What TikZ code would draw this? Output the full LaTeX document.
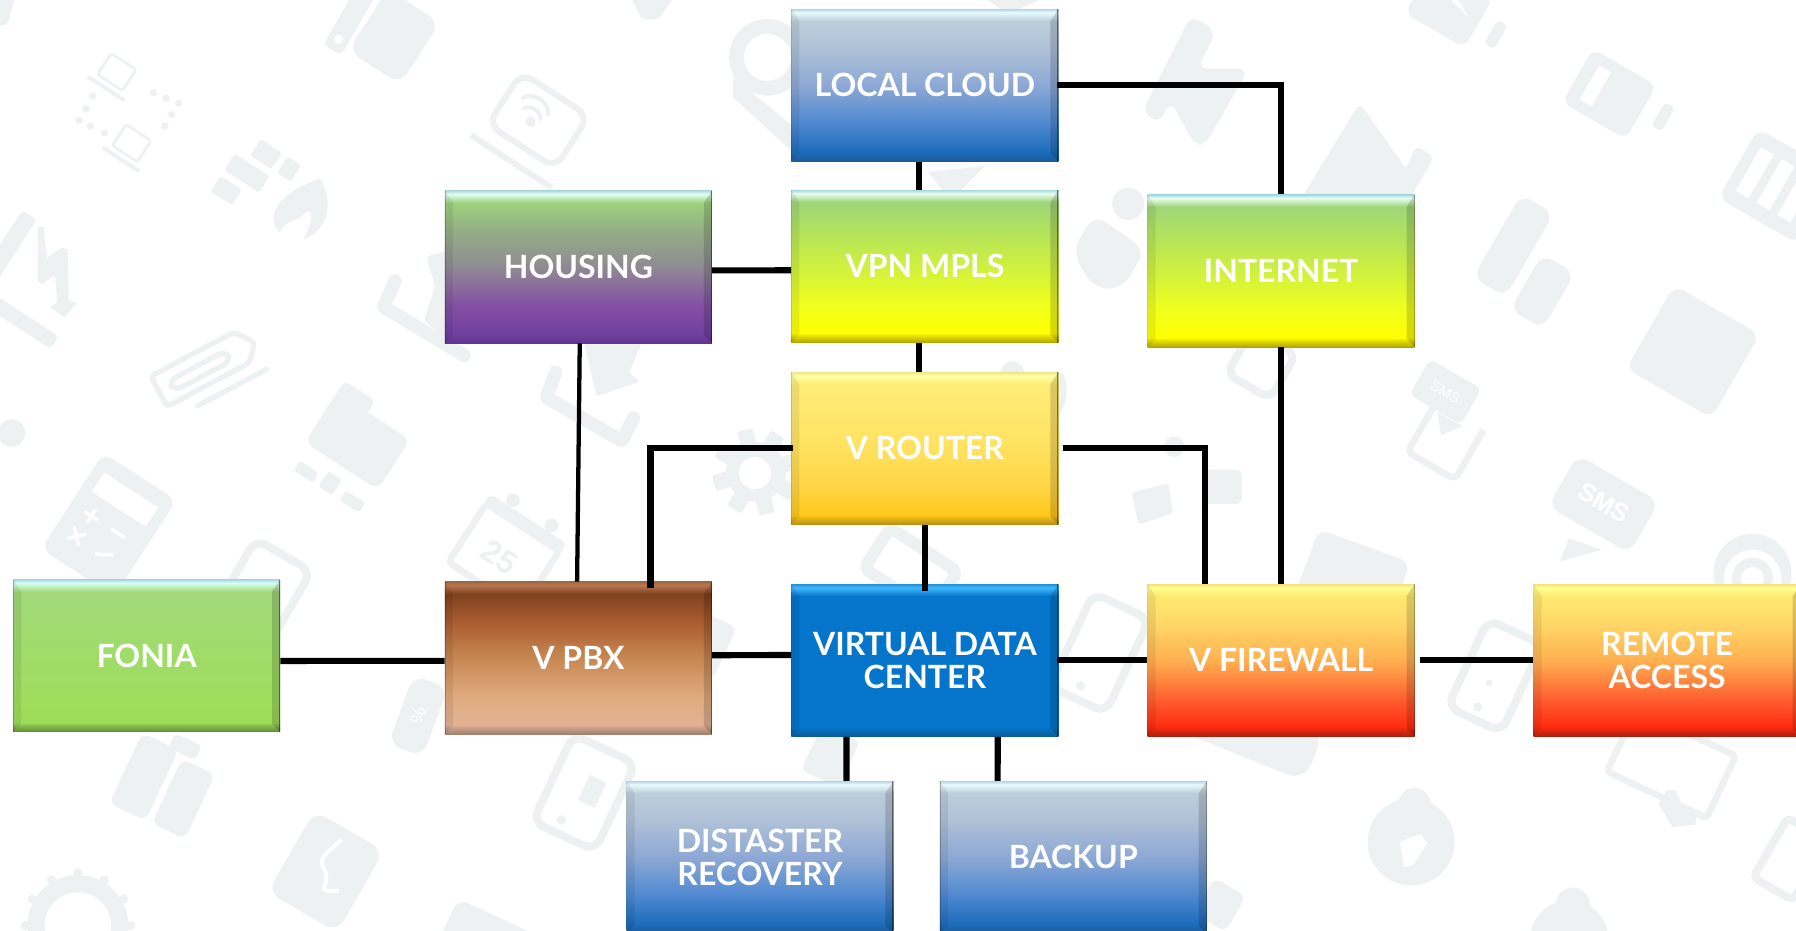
\documentclass[tikz,border=0pt]{standalone}
\usepackage{fontspec}
\setmainfont{Lato}
\newfontfamily\boxfont{Lato}[BoldFont={Lato Bold}]
\newfontfamily\icofont{Liberation Sans}
\newcommand\hc[2]{\definecolor{#1}{HTML}{#2}}
\newcommand\mkshade[9]{%
 \hc{#1a}{#2}\hc{#1b}{#3}\hc{#1c}{#4}\hc{#1d}{#5}\hc{#1e}{#6}\hc{#1f}{#7}\hc{#1g}{#8}\hc{#1h}{#9}%
 \pgfdeclareverticalshading{#1}{100bp}{color(0bp)=(#1a); color(25bp)=(#1a); color(26bp)=(#1a!70!#1b); color(27.6bp)=(#1a!20!#1b); color(28bp)=(#1b); color(37.5bp)=(#1c); color(50bp)=(#1d); color(62.5bp)=(#1e); color(71bp)=(#1f); color(73.9bp)=(#1g); color(75bp)=(#1h); color(100bp)=(#1h)}}
\mkshade{sblue}{1D5A96}{1C6CBC}{4F89D0}{8DA8D5}{B0C2D7}{BCCDDB}{E8FBFC}{B5D5E5}
\mkshade{sgreen}{B0A400}{FFFF00}{F0FF1E}{CFF03F}{B0E25F}{A0D57A}{E6FFF0}{A8D8E0}
\mkshade{shouse}{62358F}{7040A0}{8450A5}{8F8A92}{95B085}{9ED17E}{E0FFF0}{B0D8E0}
\mkshade{srouter}{B89010}{FFC81A}{FFD545}{FFE15E}{FFE870}{FFEC78}{FFFFA0}{EFE58A}
\mkshade{sfire}{A82010}{FF2A10}{FF6030}{FFB050}{FFD868}{FFE970}{FFFF90}{F5E080}
\mkshade{svdc}{0C5A96}{0575CC}{0575CC}{0575CC}{0575CC}{0575CC}{40B8FF}{2090D0}
\mkshade{spbx}{A08070}{E2B294}{DFAB7E}{C78752}{A85A2E}{7E411E}{B87850}{9E6845}
\mkshade{sfon}{5F8A3A}{9EDC58}{9FDD60}{9FDC68}{A0DA72}{A2D87A}{D8FFF0}{A8D8E8}
\hc{icg}{EEF1F2}
\newcommand\ico[4]{\begin{scope}[shift={(#1,#2)},rotate=#3]#4\end{scope}}
\tikzset{
 bevelbox/.style={rectangle,minimum width=200.2pt,minimum height=114.3pt,inner sep=0pt,
  shade,shading=#1,text=white,align=center,
  font=\boxfont\bfseries\fontsize{24}{25}\selectfont,
  path picture={
   \fill[black,opacity=.07] (path picture bounding box.north west) -- ([shift={(6pt,-9pt)}]path picture bounding box.north west) -- ([shift={(6pt,6pt)}]path picture bounding box.south west) -- (path picture bounding box.south west) -- cycle;
   \fill[black,opacity=.15] (path picture bounding box.north east) -- ([shift={(-6pt,-9pt)}]path picture bounding box.north east) -- ([shift={(-6pt,6pt)}]path picture bounding box.south east) -- (path picture bounding box.south east) -- cycle;
   \draw[black,opacity=.22,line width=1.2pt] (path picture bounding box.north west) -- (path picture bounding box.south west);
   \draw[black,opacity=.45,line width=1.6pt] (path picture bounding box.north east) -- (path picture bounding box.south east);
  }},
 conn/.style={line width=4.6pt,draw=black,line join=miter},
 connthin/.style={line width=3.2pt,draw=black},
 ic/.style={fill=icg,rounded corners=4pt},
 icl/.style={draw=icg,line width=3pt,rounded corners=4pt},
 ict/.style={text=white,inner sep=0pt,font=\icofont\bfseries},
}
\begin{document}
\begin{tikzpicture}[x=0.85906pt,y=-0.85906pt]
\useasboundingbox (0,0) rectangle (1568,812.8);
\clip (0,0) rectangle (1568,812.8);
\fill[white] (0,0) rectangle (1568,812.8);
% ---- watermark icons
% thumb
\ico{344}{32}{-33}{\fill[ic,rounded corners=10pt](-27,-32)rectangle(27,32);}
\ico{306}{16}{-30}{\fill[ic](-9,-38)rectangle(9,32);\fill[white](0,21)circle(4);}
% dotted laptops
\ico{102}{63}{-33}{\draw[icl,line width=2pt,rounded corners=2pt](-13,-11)rectangle(13,11);\draw[icl,line width=3pt,rounded corners=1pt](-19,17)--(19,17);}
\ico{115}{125}{-33}{\draw[icl,line width=2pt,rounded corners=2pt](-13,-11)rectangle(13,11);\draw[icl,line width=3pt,rounded corners=1pt](-19,17)--(19,17);}
\foreach \a/\b in {141/81,152/86,163/90,157/100,151/110,88/84,82/95,76/105,86/110,98/116}{\fill[icg](\a-7,\b)circle(3.2);}
% wifi laptop
\ico{470}{105}{-33}{\draw[icl,line width=4.5pt,rounded corners=10pt](-35,-27)rectangle(35,27);\draw[icl,line width=4.5pt,rounded corners=2pt](-42,43)--(42,43);
 \fill[icg](-5,5)circle(4.5);\draw[icg,line width=3pt,line cap=round](-16,-2)arc(200:340:9 and 7);\draw[icg,line width=3pt,line cap=round](-22,-9)arc(200:340:14 and 11);}
% bricks & flame
\ico{222}{156}{-33}{\fill[ic,rounded corners=2pt](-14,-32)rectangle(8,-15);\fill[ic,rounded corners=2pt](-26,-9)rectangle(10,8);\fill[ic,rounded corners=2pt](14,-32)rectangle(28,-15);\fill[ic,rounded corners=2pt](-26,14)rectangle(-4,30);}
\fill[icg](279,156)..controls(290,170)and(290,200)..(265,209)..controls(272,195)and(274,185)..(269,184)..controls(258,195)and(248,192)..(244,203)..controls(232,190)and(240,170)..(279,156)--cycle;
% lightning laptop
\ico{30}{250}{-33}{\fill[ic](-48,25)rectangle(42,38);\fill[ic,rounded corners=3pt](-45,-50)rectangle(-30,20);}
\fill[icg](33,198)--(38,198)--(41,225)--(54,216)--(59,218)--(60,262)--(67,265)--(56,277)--(44,268)--(50,264)--(48,240)--(37,248)--(33,245)--cycle;
% paperclip
\ico{178}{322}{28}{\draw[icl,line width=4pt,rounded corners=3pt](-44,-16)--(38,-16)--(50,0)--(38,14)--(-44,14)--cycle;\draw[icl,line width=4pt,rounded corners=6pt](-32,-5)rectangle(24,5);\draw[icl,line width=4pt,line cap=round](-20,26)--(48,26);}
% folder
\ico{312}{385}{-33}{\fill[ic,rounded corners=7pt](-38,-26)rectangle(38,26);\fill[ic,rounded corners=4pt](-38,-38)rectangle(-6,-12);}
\ico{288}{424}{-33}{\fill[ic,rounded corners=2pt](-34,-4)rectangle(-14,6);\fill[ic,rounded corners=2pt](-8,-10)rectangle(6,6);\fill[ic,rounded corners=2pt](14,-4)rectangle(34,6);}
% left blob
\fill[icg](10,378)circle(12);
% calculator
\ico{95}{458}{-33}{\fill[ic,rounded corners=8pt](-38,-50)rectangle(38,50);\fill[white](-28,-36)rectangle(28,-16);
 \draw[white,line width=2.5pt](-24,2)--(-10,2)(-17,-5)--(-17,9)(4,2)--(18,2)(-24,18)--(-12,30)(-12,18)--(-24,30)(4,28)--(18,20);}
% calendar
\ico{445}{478}{-33}{\draw[icl,line width=5pt,rounded corners=4pt](-38,-22)rectangle(38,40);\fill[ic](-40,-30)rectangle(40,-18);\fill[icg](-20,-36)circle(6);\fill[icg](20,-36)circle(6);
 \node[ict,rotate=-33,text=icg,font=\icofont\bfseries\fontsize{24}{24}\selectfont] (ical) at (-3,12) {25};}
% tray / download
\draw[icg,line width=10pt,line cap=round,rounded corners=2pt](485,325)--(477,347)--(543,385)--(553,365);
\fill[icg,rounded corners=2pt](510,300)--(560,300)--(549,326)--(559,333)--(521,346)--cycle;
\draw[icg,line width=10pt,line cap=round,rounded corners=2pt](345,245)--(335,268)--(405,310);
\fill[icg,rounded corners=3pt](372,224)--(395,218)--(395,300)--(370,280)--(380,250)--cycle;
% gear
\fill[icg](660,412)circle(26);
\foreach \r in {0,45,...,315}{\ico{660}{412}{\r+15}{\fill[icg,rounded corners=2pt](-7,-38)rectangle(7,-20);}}
\fill[white](659,413)circle(14);
% top ring
\draw[icg,line width=11pt](670,50)circle(27);
\fill[icg](640,68)--(690,108)--(730,110)--(700,140)--(640,85)--cycle;
% lightning top
\fill[icg,rounded corners=8pt](1040,13)--(1062,28)--(1045,60)--(1090,60)--(1052,127)--(1043,127)--(1022,88)--(1012,108)--(997,98)--cycle;
% mountain
\fill[icg,rounded corners=5pt](1187,90)--(1228,148)--(1236,127)--(1252,137)--(1230,175)--(1135,175)--cycle;
% paw
\fill[icg,rounded corners=11pt](936,220)--(955,187)--(1000,218)--(980,252)--(955,252)--cycle;
\fill[icg](985,178)circle(14);
\fill[icg](810,150)--(860,145)--(830,175)--cycle;
\fill[icg,rounded corners=4pt](550,-5)--(590,-5)--(575,17)--(560,17)--cycle;
\fill[icg,rounded corners=3pt](858,-3)--(915,-3)--(880,12)--cycle;
% battery etc.
\ico{1265}{5}{-30}{\fill[ic,rounded corners=7pt](-30,-25)rectangle(30,25);\fill[white](-8,-15)--(20,0)--(-20,-10)--cycle;}
\ico{1306}{30}{-30}{\fill[ic,rounded corners=3pt](-5,-12)rectangle(5,12);}
\ico{1405}{82}{-30}{\fill[ic,rounded corners=7pt](-32,-27)rectangle(32,27);\fill[white](-20,-17)rectangle(-8,17);}
\ico{1452}{102}{-30}{\fill[ic,rounded corners=3pt](-5,-12)rectangle(5,12);}
\ico{1337}{228}{-30}{\fill[ic,rounded corners=9pt](-37,-46)rectangle(-4,38);\fill[ic,rounded corners=9pt](5,-10)rectangle(38,46);}
\ico{1478}{307}{-30}{\fill[ic,rounded corners=8pt](-43,-42)rectangle(43,42);}
\ico{1548}{160}{-30}{\fill[ic,rounded corners=8pt](-35,-35)rectangle(45,35);\fill[white](-25,-22)rectangle(-12,22);\fill[white](-4,-22)rectangle(9,22);\fill[white](17,-22)rectangle(30,22);}
% sms phone
\ico{1262}{342}{-30}{\fill[ic,rounded corners=5pt](-26,-18)rectangle(26,18);\node[ict,rotate=-30,font=\icofont\fontsize{11}{11}\selectfont] (is1) at (0,0) {SMS};}
\fill[icg](1255,360)--(1277,372)--(1258,380)--cycle;
\ico{1262}{385}{-30}{\draw[icl,line width=5pt,rounded corners=5pt](-24,-25)--(-24,25)--(24,25)--(24,-25);}
\ico{1400}{440}{-30}{\fill[ic,rounded corners=9pt](-41,-26)rectangle(41,26);\node[ict,rotate=-30,font=\icofont\bfseries\fontsize{19}{19}\selectfont] (is2) at (0,-1) {SMS};}
\fill[icg](1370,470)--(1398,480)--(1362,490)--cycle;
% phones around boxes
\ico{960}{570}{-25}{\draw[icl,line width=6pt,rounded corners=9pt](-27,-45)rectangle(27,45);\fill[icg](-3,33)circle(4);}
\ico{1305}{590}{-25}{\draw[icl,line width=6pt,rounded corners=9pt](-26,-42)rectangle(26,42);\fill[icg](-2,31)circle(4);\fill[icg](-2,8)circle(3);}
\ico{1180}{515}{-20}{\fill[ic,rounded corners=8pt](-45,-40)rectangle(40,45);}
\ico{230}{515}{-30}{\draw[icl,line width=6pt,rounded corners=9pt](-28,-35)rectangle(28,50);}
\ico{365}{625}{-20}{\fill[ic,rounded corners=10pt](-16,-32)rectangle(16,32);\node[ict,rotate=70,font=\icofont\fontsize{14}{14}\selectfont] (ipc) at (0,0) {\%};}
\ico{610}{560}{-25}{\fill[ic,rounded corners=6pt](-25,-25)rectangle(25,25);}
\ico{510}{692}{-25}{\draw[icl,line width=6pt,rounded corners=9pt](-30,-42)rectangle(30,42);\fill[icg](-8,30)circle(4);\fill[icg](-2,-16)rectangle(14,8);}
\ico{145}{685}{-25}{\fill[ic,rounded corners=6pt](-38,-32)rectangle(-3,36);\fill[ic,rounded corners=6pt](3,-26)rectangle(35,36);\fill[ic](-12,-44)rectangle(14,-30);}
\ico{285}{760}{-30}{\fill[ic,rounded corners=10pt](-35,-40)rectangle(35,42);\draw[white,line width=3pt,rounded corners=6pt](-2,-30)--(-10,-5)--(5,5)--(5,18)--(18,10);}
\fill[icg](68,808)circle(44);\fill[white](68,808)circle(29);\foreach \r in {0,30,...,330}{\fill[icg]({68+46*cos(\r)},{808+46*sin(\r)})circle(4);}
\ico{430}{815}{-25}{\fill[ic,rounded corners=8pt](-40,-15)rectangle(40,30);}
\ico{725}{660}{-25}{\fill[ic](-18,-22)rectangle(18,22);}
\ico{800}{490}{-33}{\draw[icl,line width=9pt,rounded corners=5pt](-35,-12)rectangle(35,30);}
\ico{1095}{630}{-22}{\fill[ic,rounded corners=14pt](-60,-14)rectangle(60,32);}
\ico{1065}{790}{-30}{\fill[ic,rounded corners=6pt](-16,-18)rectangle(16,18);}
\ico{1460}{665}{-25}{\draw[icl,line width=5pt,rounded corners=3pt](-48,-28)rectangle(48,32);}
\fill[icg](1455,690)--(1463,690)--(1468,702)--(1482,708)--(1480,720)--(1460,722)--(1448,702)--cycle;
% clouds
\fill[icg](1232,735)circle(38);\fill[icg](1235,702)circle(14);\fill[white](1222,735)--(1240,728)--(1246,736)--(1234,755)--(1226,757)--cycle;
\fill[icg](1370,820)circle(34);\fill[icg](1373,790)circle(15);
\fill[icg](1530,500)circle(34);\fill[white](1530,505)circle(25);\fill[icg](1530,505)circle(18);\fill[white](1530,505)circle(10);
\fill[icg](1025,390)circle(9);\fill[icg,rounded corners=2pt](988,430)--(1020,422)--(1024,448)--(994,458)--cycle;\fill[icg,rounded corners=4pt](1050,410)rectangle(1084,440);
\ico{880}{340}{-15}{\fill[ic,rounded corners=8pt](-10,-25)rectangle(10,30);\draw[icl,line width=5pt](40,-25)arc(-40:30:35);}
\ico{1100}{320}{-30}{\draw[icl,line width=6pt,rounded corners=8pt](-22,-25)rectangle(22,20);}
\ico{5}{20}{-15}{\fill[ic](-12,-28)rectangle(2,3);}
\ico{1563}{750}{-30}{\draw[icl,line width=6pt,rounded corners=4pt](-20,-30)rectangle(20,30);}
% ---- boxes
\node[bevelbox=sblue] (lc) at (807.5,74.5) {LOCAL CLOUD};
\node[bevelbox=sgreen] (vpn) at (807.5,232.5) {VPN MPLS};
\node[bevelbox=shouse] (hou) at (505,233) {HOUSING};
\node[bevelbox=sgreen] (net) at (1118.5,236.5) {INTERNET};
\node[bevelbox=srouter] (rou) at (807.5,391.5) {V ROUTER};
\node[bevelbox=spbx] (pbx) at (505,574.5) {V PBX};
\node[bevelbox=svdc] (vdc) at (807.5,576.5) {VIRTUAL DATA\\CENTER};
\node[bevelbox=sfire] (fw) at (1118.5,576.5) {V FIREWALL};
\node[bevelbox=sfire] (rem) at (1455.5,576.5) {REMOTE\\ACCESS};
\node[bevelbox=sfon] (fon) at (128,572.5) {FONIA};
\node[bevelbox=sblue] (dr) at (663.5,748.5) {DISTASTER\\RECOVERY};
\node[bevelbox=sblue] (bak) at (937,748.5) {BACKUP};
% ---- connectors
\draw[conn] ([xshift=-4.7pt]lc.south) -- ([xshift=-4.7pt]vpn.north);
\draw[conn] ([xshift=-1.5pt]lc.east) -| (net.north);
\draw[conn] ([yshift=-3pt]vpn.west) -- ([yshift=-2.6pt]hou.east);
\draw[connthin] ([xshift=1pt]hou.south) -- ([xshift=-1pt]pbx.north);
\draw[conn] ([xshift=-4.7pt]vpn.south) -- ([xshift=-4.7pt]rou.north);
\draw[conn] ([xshift=1.5pt]rou.west) -| ([shift={(54pt,-5pt)}]pbx.north);
\draw[conn] ([xshift=3pt]rou.east) -| ([xshift=-57pt]fw.north);
\draw[conn] (rou.south) -- ([yshift=-5pt]vdc.north);
\draw[conn] (net.south) -- (fw.north);
\draw[conn] ([yshift=-3.9pt]fon.east) -- ([yshift=-2.1pt]pbx.west);
\draw[conn] ([yshift=2.1pt]pbx.east) -- ([yshift=4pt]vdc.west);
\draw[conn] ([xshift=-1pt]vdc.east) -- (fw.west);
\draw[conn] ([xshift=4pt]fw.east) -- (rem.west);
\draw[conn] ([xshift=-58.8pt]vdc.south) -- ([xshift=64.9pt]dr.north);
\draw[conn] ([xshift=54.6pt]vdc.south) -- ([xshift=-56.7pt]bak.north);
\end{tikzpicture}
\end{document}
